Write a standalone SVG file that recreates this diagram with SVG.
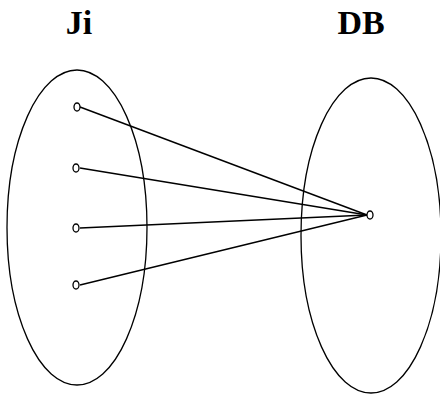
<svg xmlns="http://www.w3.org/2000/svg" width="440" height="395" viewBox="0 0 440 395">
<style>
.set{fill:none;stroke:#000;stroke-width:1.3}
.pt{fill:#fff;stroke:#000;stroke-width:1.3}
.lbl{font-family:"Liberation Serif",serif;font-weight:bold;font-size:34px;fill:#000}
#connectors line{stroke:#000;stroke-width:1.4}
</style>
<rect width="440" height="395" fill="#fff"/>
<g id="set-ji">
<ellipse class="set" cx="77" cy="227.5" rx="70" ry="157.5"/>
<text class="lbl" x="79" y="34" text-anchor="middle">Ji</text>
</g>
<g id="set-db">
<ellipse class="set" cx="371" cy="235.5" rx="70" ry="157.5"/>
<text class="lbl" x="361" y="34" text-anchor="middle">DB</text>
</g>
<g id="connectors">
<line x1="80" y1="107" x2="367" y2="215"/>
<line x1="80" y1="168" x2="367" y2="215"/>
<line x1="80" y1="228" x2="367" y2="215"/>
<line x1="80" y1="285" x2="367" y2="215"/>
</g>
<g id="j1"><ellipse class="pt" cx="77" cy="107" rx="3" ry="4"/></g>
<g id="j2"><ellipse class="pt" cx="76" cy="168" rx="3" ry="4"/></g>
<g id="j3"><ellipse class="pt" cx="76" cy="228" rx="3" ry="4"/></g>
<g id="j4"><ellipse class="pt" cx="76" cy="285" rx="3" ry="4"/></g>
<g id="d1"><ellipse class="pt" cx="370" cy="215" rx="3" ry="4"/></g>
</svg>
